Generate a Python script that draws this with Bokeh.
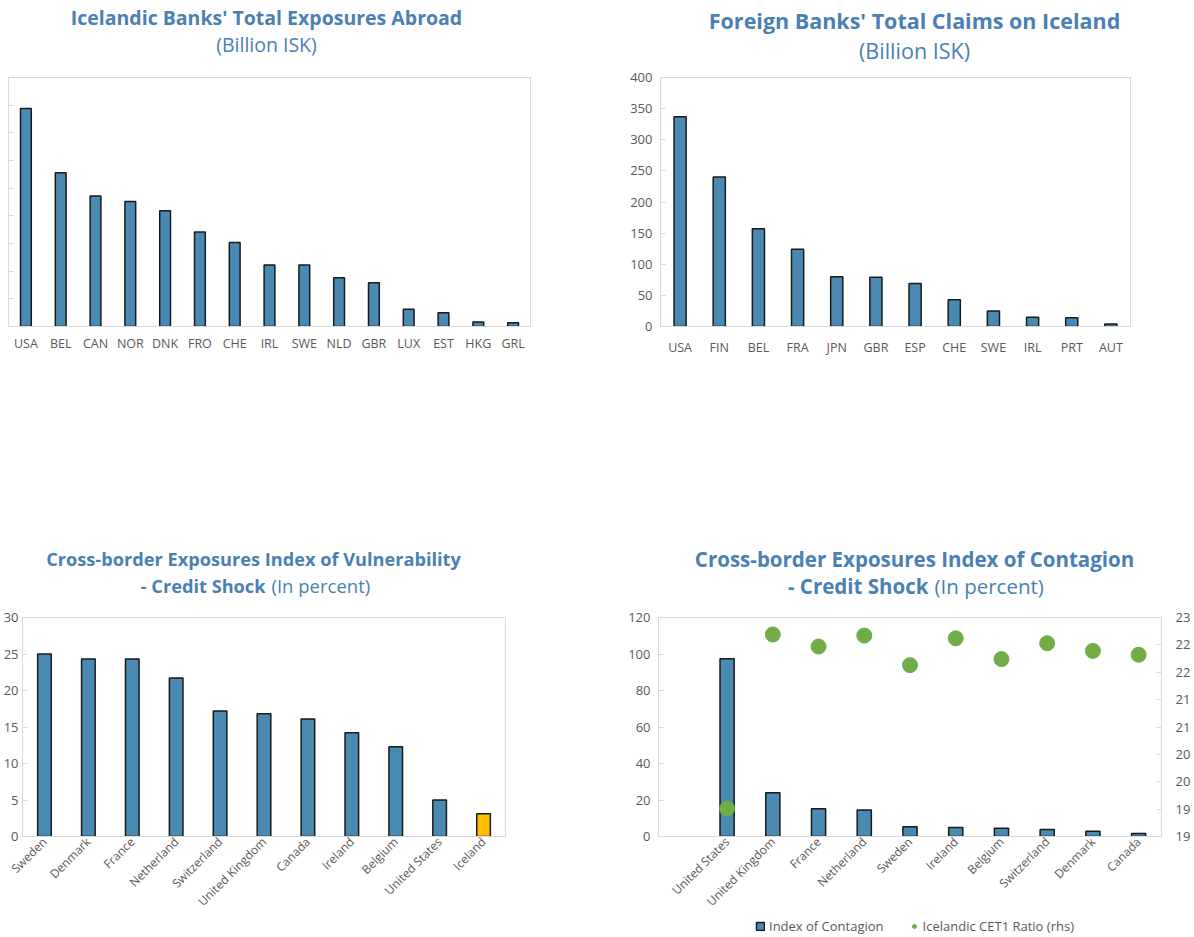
import math
from bokeh.plotting import figure
from bokeh.models import (FactorRange, Range1d, LinearAxis, FixedTicker, Label,
                          Legend, LegendItem, ColumnDataSource)
from bokeh.layouts import column, row
from bokeh.embed import file_html
from bokeh.resources import INLINE

# ---------------- data ----------------
exposure_countries = ["USA", "BEL", "CAN", "NOR", "DNK", "FRO", "CHE", "IRL",
                      "SWE", "NLD", "GBR", "LUX", "EST", "HKG", "GRL"]
exposure_values = [394, 278, 236, 226, 209, 171, 152, 111, 111, 88, 79, 31, 25, 8, 7]

claims_countries = ["USA", "FIN", "BEL", "FRA", "JPN", "GBR", "ESP", "CHE",
                    "SWE", "IRL", "PRT", "AUT"]
claims_values = [337, 240, 157, 124, 80, 79, 69, 43, 25, 15, 14, 4]

vuln_countries = ["Sweden", "Denmark", "France", "Netherland", "Switzerland",
                  "United Kingdom", "Canada", "Ireland", "Belgium",
                  "United States", "Iceland"]
vuln_values = [25.0, 24.3, 24.3, 21.7, 17.2, 16.8, 16.1, 14.2, 12.3, 5.0, 3.1]

cont_countries = [" ", "United States", "United Kingdom", "France", "Netherland",
                  "Sweden", "Ireland", "Belgium", "Switzerland", "Denmark", "Canada"]
cont_values = [float("nan"), 97.4, 24.0, 15.2, 14.5, 5.4, 5.0, 4.5, 3.8, 2.9, 1.6]
cet1_values = [float("nan"), 19.51, 22.69, 22.47, 22.67, 22.13, 22.62, 22.24,
               22.53, 22.39, 22.32]

right_ticks = [19, 19.5, 20, 20.5, 21, 21.5, 22, 22.5, 23]
right_tick_labels = ["19", "19", "20", "20", "21", "21", "22", "22", "23"]

legend_labels = ["Index of Contagion", "Icelandic CET1 Ratio (rhs)"]

# ---------------- style ----------------
FONT = "Open Sans"
BAR = "#4a8ab2"
HILITE = "#ffc000"
GREEN = "#70ad47"
TITLE_C = "#4a80b3"
GREY = "#595959"
FRAME = "#d9d9d9"
OUTLINE = "#1a1a1a"


def strip(width, height):
    t = figure(width=width, height=height, x_range=Range1d(0, width),
               y_range=Range1d(0, height), output_backend="svg",
               toolbar_location=None, x_axis_location=None, y_axis_location=None,
               min_border_left=0, min_border_right=0, min_border_top=0,
               min_border_bottom=0)
    t.xgrid.visible = False
    t.ygrid.visible = False
    t.outline_line_color = None
    return t


def tlabel(p, x, y, text, bold=True, size="18px", align="center"):
    p.add_layout(Label(x=x, y=y, x_units="screen", y_units="screen", text=text,
                       text_align=align, text_baseline="middle",
                       text_font=FONT, text_font_size=size,
                       text_font_style="bold" if bold else "normal",
                       text_color=TITLE_C))


def make_fig(width, height, factors, y0, y1, ticks, mb):
    p = figure(width=width, height=height, x_range=FactorRange(*factors),
               y_range=Range1d(y0, y1), output_backend="svg",
               toolbar_location=None,
               min_border_left=mb[0], min_border_right=mb[1],
               min_border_top=mb[2], min_border_bottom=mb[3])
    p.xgrid.visible = False
    p.ygrid.visible = False
    p.outline_line_color = FRAME
    p.yaxis.ticker = FixedTicker(ticks=ticks)
    for ax in p.axis:
        ax.axis_line_color = FRAME
        ax.major_tick_line_color = FRAME
        ax.major_tick_in = 5
        ax.major_tick_out = 0
        ax.minor_tick_line_color = None
        ax.major_label_text_font = FONT
        ax.major_label_text_font_size = "12.5px"
        ax.major_label_text_color = GREY
    p.yaxis.major_label_text_font_size = "13px"
    p.xaxis.major_tick_line_color = None
    return p


W1, W2 = 588, 605

# ---------- title strips (top) ----------
t1 = strip(W1, 64)
tlabel(t1, 266, 47, "Icelandic Banks' Total Exposures Abroad", size="19.5px")
tlabel(t1, 266, 20, "(Billion ISK)", bold=False, size="19.5px")
t2 = strip(W2, 64)
tlabel(t2, 326, 44, "Foreign Banks' Total Claims on Iceland", size="21.5px")
tlabel(t2, 326, 14, "(Billion ISK)", bold=False, size="21.5px")

# ---------- Top-left ----------
p1 = make_fig(W1, 456, exposure_countries, 0, 450, list(range(0, 451, 50)),
              (8, 58, 13, 194))
p1.vbar(x=exposure_countries, top=exposure_values, width=0.31, fill_color=BAR,
        line_color=OUTLINE, line_width=1.5)
p1.yaxis.major_label_text_color = None
p1.yaxis.major_label_text_font_size = "1px"
p1.yaxis.major_label_standoff = 0
p1.xaxis.major_label_standoff = 8

# ---------- Top-right ----------
p2 = make_fig(W2, 456, claims_countries, 0, 400, list(range(0, 401, 50)),
              (72, 63, 13, 194))
p2.vbar(x=claims_countries, top=claims_values, width=0.31, fill_color=BAR,
        line_color=OUTLINE, line_width=1.5)
p2.xaxis.major_label_standoff = 12
p2.yaxis.major_label_standoff = 8

# ---------- title strips (bottom) ----------
t3 = strip(W1, 80)
tlabel(t3, 253, 42, "Cross-border Exposures Index of Vulnerability", size="18.2px")
tlabel(t3, 265, 15, "- Credit Shock", align="right", size="18.2px")
tlabel(t3, 271, 15, "(In percent)", bold=False, size="18.5px", align="left")
t4 = strip(W2, 80)
tlabel(t4, 326, 42, "Cross-border Exposures Index of Contagion", size="20.5px")
tlabel(t4, 340, 15, "- Credit Shock", align="right", size="20.5px")
tlabel(t4, 346, 15, "(In percent)", bold=False, size="20.5px", align="left")

# ---------- Bottom-left ----------
p3 = make_fig(W1, 318, vuln_countries, 0, 30, list(range(0, 31, 5)),
              (20, 83, 17, 76))
vuln_colors = [HILITE if c == "Iceland" else BAR for c in vuln_countries]
p3.vbar(x=vuln_countries, top=vuln_values, width=0.31, fill_color=vuln_colors,
        line_color=OUTLINE, line_width=1.5)
p3.xaxis.major_label_orientation = math.pi / 4
p3.xaxis.major_label_text_font_size = "12px"
p3.xaxis.major_label_standoff = 3
p3.yaxis.major_label_standoff = 4

# ---------- Bottom-right ----------
p4 = make_fig(W2, 318, cont_countries, 0, 120, list(range(0, 121, 20)),
              (70, 30, 17, 76))
p4.extra_y_ranges = {"rhs": Range1d(19, 23)}
rax = LinearAxis(y_range_name="rhs", ticker=FixedTicker(ticks=right_ticks))
rax.major_label_overrides = {t: l for t, l in zip(right_ticks, right_tick_labels)}
rax.axis_line_color = FRAME
rax.major_tick_line_color = FRAME
rax.major_tick_in = 5
rax.major_tick_out = 0
rax.minor_tick_line_color = None
rax.major_label_text_font = FONT
rax.major_label_text_font_size = "13px"
rax.major_label_text_color = GREY
rax.major_label_standoff = 14
p4.add_layout(rax, "right")
src4 = ColumnDataSource(dict(x=cont_countries, v=cont_values, c=cet1_values))
p4.vbar(x="x", top="v", source=src4, width=0.31, fill_color=BAR,
        line_color=OUTLINE, line_width=1.5)
p4.scatter(x="x", y="c", source=src4, size=15, fill_color=GREEN,
           line_color=GREEN, y_range_name="rhs")
p4.xaxis.major_label_orientation = math.pi / 4
p4.xaxis.major_label_text_font_size = "12px"
p4.xaxis.major_label_standoff = 3
p4.yaxis[0].major_label_standoff = 8

# ---------- legend strip (legend keys use placeholder, undrawn points) ----------
t5 = strip(W1, 18)
t6 = strip(W2, 18)
proxy = ColumnDataSource(dict(x=[float("nan")], top=[float("nan")], y=[float("nan")]))
lg_bar = t6.vbar(x="x", top="top", source=proxy, width=0.31, fill_color=BAR,
                 line_color=OUTLINE, line_width=1.5)
lg_dot = t6.scatter(x="x", y="y", source=proxy, size=15, fill_color=GREEN,
                    line_color=GREEN)
legend = Legend(items=[LegendItem(label=legend_labels[0], renderers=[lg_bar]),
                       LegendItem(label=legend_labels[1], renderers=[lg_dot])],
                location=(167, 1), orientation="horizontal",
                border_line_color=None, background_fill_alpha=0,
                label_text_font=FONT, label_text_font_size="13px",
                label_text_color=GREY, glyph_width=10, glyph_height=10,
                spacing=25, padding=0, margin=0, label_standoff=4,
                label_height=16)
t6.add_layout(legend)

layout = column(row(t1, t2), row(p1, p2), row(t3, t4), row(p3, p4), row(t5, t6))
open("out.html", "w").write(file_html(layout, INLINE))
